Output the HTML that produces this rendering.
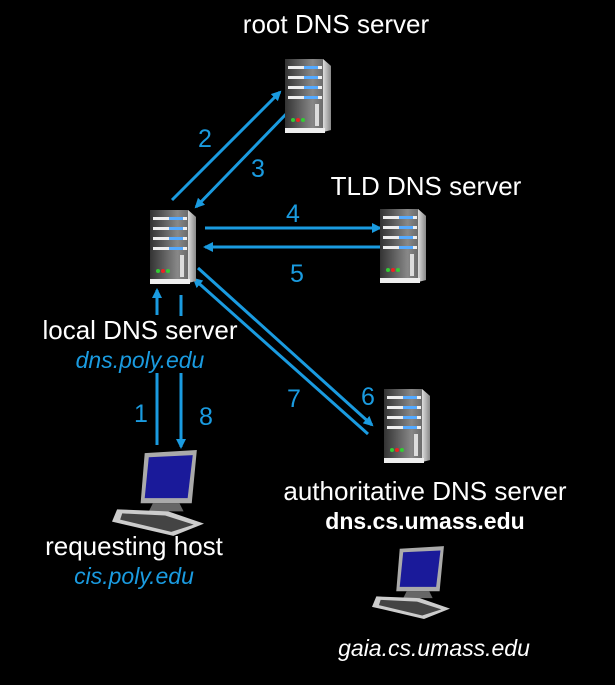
<!DOCTYPE html>
<html><head><meta charset="utf-8"><style>
html,body{margin:0;padding:0;background:#000;}
svg{display:block}
text{font-family:"Liberation Sans",sans-serif;}
</style></head><body>
<svg width="615" height="685" viewBox="0 0 615 685" xmlns="http://www.w3.org/2000/svg">
<defs>
<linearGradient id="sg" x1="0" x2="1"><stop offset="0" stop-color="#333"/><stop offset="0.6" stop-color="#888"/><stop offset="1" stop-color="#555"/></linearGradient>
<linearGradient id="side" x1="0" x2="1"><stop offset="0" stop-color="#ddd"/><stop offset="1" stop-color="#888"/></linearGradient>
<symbol id="srv" viewBox="0 0 48 78">
<polygon points="0,3 38,3 46,10 46,74 38,76 0,76" fill="url(#sg)"/>
<polygon points="38,3 46,10 46,74 38,76" fill="url(#side)"/>
<rect x="3" y="10" width="34" height="3" fill="#eee"/><rect x="19" y="10" width="14" height="3" fill="#5af"/>
<rect x="3" y="20" width="34" height="3" fill="#eee"/><rect x="19" y="20" width="14" height="3" fill="#5af"/>
<rect x="3" y="30" width="34" height="3" fill="#eee"/><rect x="19" y="30" width="14" height="3" fill="#5af"/>
<rect x="3" y="40" width="34" height="3" fill="#eee"/><rect x="19" y="40" width="14" height="3" fill="#5af"/>
<rect x="30" y="48" width="4" height="22" fill="#ddd"/>
<circle cx="8" cy="64" r="2" fill="#3c3"/><circle cx="13" cy="64" r="2" fill="#e22"/><circle cx="18" cy="64" r="2" fill="#3c3"/>
<rect x="0" y="72" width="40" height="5" fill="#eee"/>
</symbol>
<symbol id="pc" viewBox="0 0 90 85">
<polygon points="32,3 83,0 78,52 28,52" fill="#aaa"/>
<polygon points="36,7 79,5 74,47 32,47" fill="#1a1a9a"/>
<polygon points="40,52 66,52 70,60 36,60" fill="#666"/>
<polygon points="5,58 55,60 90,72 60,84 0,70" fill="#ccc"/>
<polygon points="10,62 52,64 80,73 58,80 8,68" fill="#444"/>
</symbol>
<marker id="ah" markerWidth="10" markerHeight="10" refX="8" refY="5" orient="auto" markerUnits="userSpaceOnUse"><path d="M0,0 L10,5 L0,10 Z" fill="#1a9be0"/></marker>
</defs>
<g stroke="#1a9be0" stroke-width="3">
<line x1="172" y1="200" x2="280" y2="92" marker-end="url(#ah)"/>
<line x1="290" y1="110" x2="196" y2="207" marker-end="url(#ah)"/>
<line x1="205" y1="228" x2="380" y2="228" marker-end="url(#ah)"/>
<line x1="380" y1="247" x2="205" y2="247" marker-end="url(#ah)"/>
<line x1="198" y1="268" x2="372" y2="425" marker-end="url(#ah)"/>
<line x1="368" y1="434" x2="194" y2="279" marker-end="url(#ah)"/>
<line x1="157" y1="315" x2="157" y2="290" marker-end="url(#ah)"/>
<line x1="157" y1="445" x2="157" y2="373"/>
<line x1="181" y1="295" x2="181" y2="316"/>
<line x1="181" y1="373" x2="181" y2="447" marker-end="url(#ah)"/>
</g>
<use href="#srv" x="150" y="207" width="48" height="78"/>
<use href="#srv" x="285" y="56" width="48" height="78"/>
<use href="#srv" x="380" y="206" width="48" height="78"/>
<use href="#srv" x="384" y="386" width="48" height="78"/>
<use href="#pc" x="112" y="450" width="92" height="87"/>
<use href="#pc" x="372" y="546" width="78" height="74"/>
<g fill="#1a9be0" font-size="25" text-anchor="middle">
<text x="205" y="147">2</text><text x="258" y="177">3</text>
<text x="293" y="222">4</text><text x="297" y="282">5</text>
<text x="368" y="405">6</text><text x="294" y="407">7</text>
<text x="141" y="422">1</text><text x="206" y="425">8</text>
</g>
<g fill="#fff" font-size="26" text-anchor="middle">
<text x="336" y="33">root DNS server</text>
<text x="426" y="195">TLD DNS server</text>
<text x="140" y="339">local DNS server</text>
<text x="425" y="500">authoritative DNS server</text>
<text x="134" y="555">requesting host</text>
</g>
<g font-size="23" text-anchor="middle" font-style="italic">
<text x="140" y="368" fill="#1a9be0">dns.poly.edu</text>
<text x="134" y="584" fill="#1a9be0">cis.poly.edu</text>
<text x="434" y="656" fill="#fff">gaia.cs.umass.edu</text>
</g>
<text x="425" y="529" fill="#fff" font-size="23" font-weight="bold" text-anchor="middle">dns.cs.umass.edu</text>
</svg>
</body></html>
